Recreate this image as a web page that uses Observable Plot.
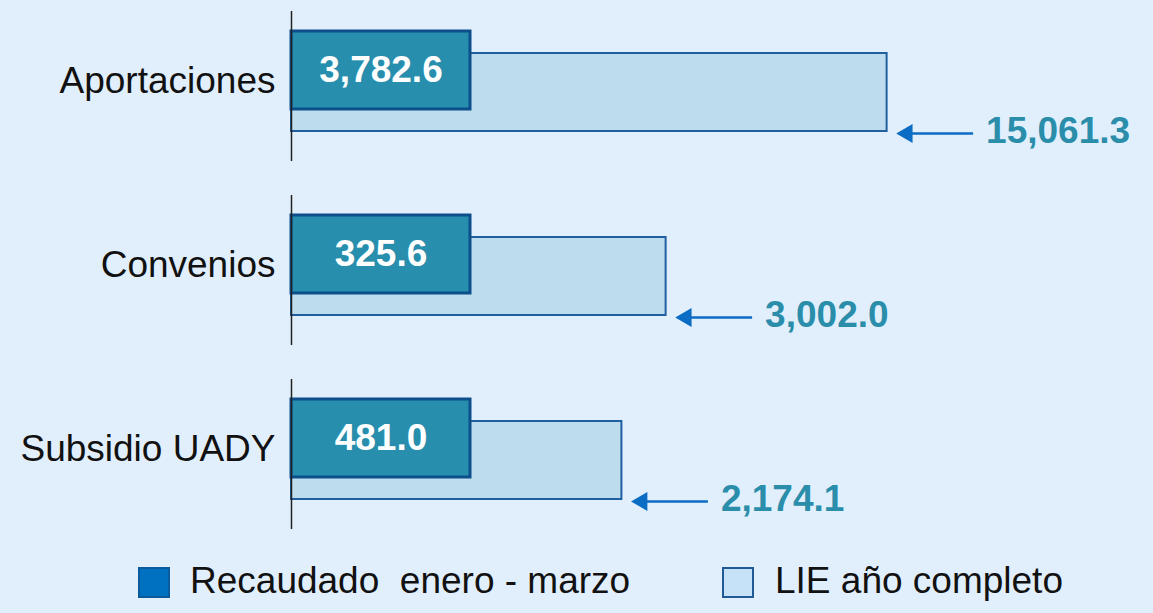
<!DOCTYPE html>
<html>
<head>
<meta charset="utf-8">
<script src="https://cdn.jsdelivr.net/npm/d3@7"></script>
<script src="https://cdn.jsdelivr.net/npm/@observablehq/plot@0.6"></script>
<style>
  html, body { margin: 0; padding: 0; background: #e1effc; width: 1153px; height: 613px; overflow: hidden;
    font-family: "Liberation Sans", Arial, sans-serif; }
  #chart svg { display: block; background: transparent; overflow: visible; }
  .legend { position: relative; height: 68px; width: 1153px; }
  .sw { position: absolute; top: 22px; width: 28px; height: 27px; border: 2px solid; }
  .lt { position: absolute; top: 16px; font-size: 37px; line-height: 40px; color: #111; white-space: pre; }
</style>
</head>
<body>
<div id="chart"></div>
<div class="legend">
  <div class="sw" style="left:138px; background:#0070c0; border-color:#0a5a9c;"></div>
  <div class="lt" style="left:190px;">Recaudado  enero - marzo</div>
  <div class="sw" style="left:722px; background:#c5e2f9; border-color:#1f5a96;"></div>
  <div class="lt" style="left:775px;">LIE año completo</div>
</div>
<script>
// ---- data ----
const categories = ["Aportaciones", "Convenios", "Subsidio UADY"];
const recaudado = [3782.6, 325.6, 481.0];   // Recaudado enero - marzo
const lie = [15061.3, 3002.0, 2174.1];      // LIE año completo

const fmt = d3.format(",.1f");
const data = categories.map((c, i) => ({cat: c, rec: recaudado[i], lie: lie[i]}));

// ---- scale / style constants ----
const X0 = 195, X1 = 19500;
const RANGE = [291, 922];
const pxPerDecade = (RANGE[1] - RANGE[0]) / Math.log10(X1 / X0);
const shift = px => 10 ** (px / pxPerDecade);   // pixel offset -> multiplicative factor on log scale
const badgeEnd = X0 * shift(179);               // fixed-width value badge

const arrowColor = "#0b6cc3";

const chart = Plot.plot({
  width: 1153,
  height: 545,
  marginLeft: 291, marginRight: 0, marginTop: 0, marginBottom: 0,
  style: {background: "transparent", fontFamily: "'Liberation Sans', Arial, sans-serif"},
  x: {type: "log", domain: [X0, X1], range: RANGE, axis: null},
  y: {type: "band", domain: categories, range: [-7, 545], padding: 0, axis: null},
  marks: [
    Plot.axisY({fontSize: 37, tickSize: 0, tickPadding: 16, dy: -4, color: "#111", label: null}),
    Plot.barX(data, {y: "cat", x1: X0, x2: "lie", fill: "#bddcee", stroke: "#1f5f9f", strokeWidth: 2,
      insetTop: 60, insetBottom: 46}),
    Plot.barX(data, {y: "cat", x1: X0, x2: badgeEnd, fill: "#278ead", stroke: "#0d4f8b", strokeWidth: 3,
      insetTop: 38, insetBottom: 68}),
    Plot.text(data, {y: "cat", x: X0, dx: 89.5, dy: -15, text: d => fmt(d.rec), fill: "white",
      fontSize: 37, fontWeight: "bold"}),
    Plot.ruleX(data, {x: X0, y1: "cat", y2: "cat", stroke: "#222", strokeWidth: 1.5, insetTop: 18, insetBottom: 16}),
    Plot.link(data, {x1: d => d.lie * shift(86), x2: d => d.lie * shift(22), y1: "cat", y2: "cat", dy: 48,
      stroke: arrowColor, strokeWidth: 2.5}),
    Plot.dot(data, {x: d => d.lie * shift(20), y: "cat", dy: 48, symbol: "triangle", r: 7, rotate: -90,
      fill: arrowColor, stroke: "none"}),
    Plot.text(data, {x: d => d.lie * shift(99), y: "cat", dy: 46, text: d => fmt(d.lie), textAnchor: "start",
      fill: "#2a8daa", fontSize: 37, fontWeight: "bold"})
  ]
});
document.getElementById("chart").appendChild(chart);
</script>
</body>
</html>
